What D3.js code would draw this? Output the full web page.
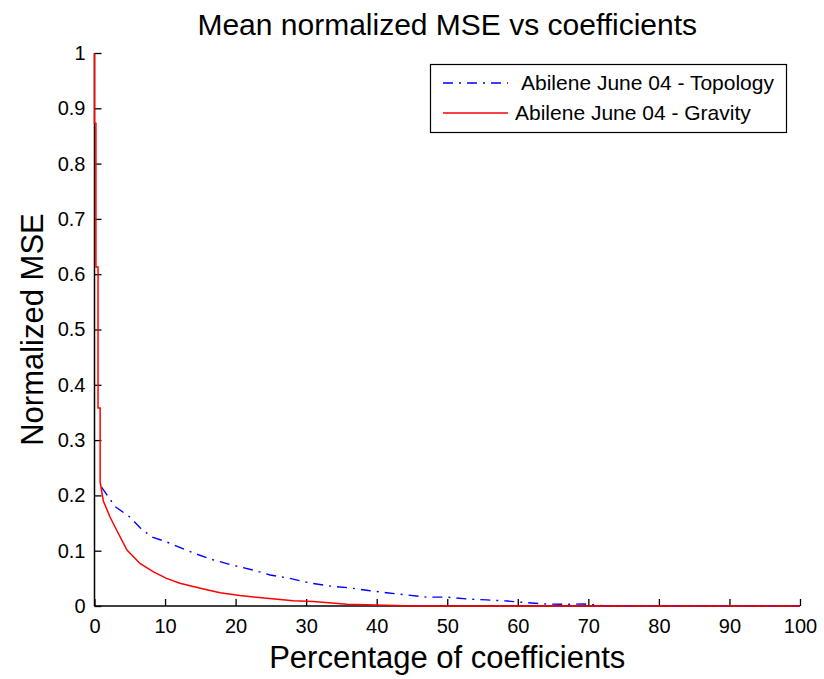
<!DOCTYPE html>
<html lang="en">
<head>
	<meta charset="UTF-8">
	<title>Mean normalized MSE vs coefficients</title>
	<style>
		body { margin: 0; background: #fff; }
		text { font-family: "Liberation Sans", Arial, sans-serif; fill: #000; }
	</style>
</head>
<body>

	<div id="viz-wrapper"></div>

	<script src="https://cdn.jsdelivr.net/npm/d3@7/dist/d3.min.js"></script>

	<script type="text/javascript">
    // values (percentage of coefficients vs normalized MSE)
    var topoX = [1.0, 2.9, 5.0, 6.5, 8.1, 10.2, 11.9, 14, 16.4, 19.5, 22.5, 24.9, 27.7, 30.4,
                 33.4, 36, 38.8, 41.4, 44.3, 47.1, 50, 52.8, 55.6, 58.5, 61.3, 64.1, 66.5,
                 69.3, 71.2, 72.5, 100];
    var topoY = [0.215, 0.18, 0.161, 0.141, 0.125, 0.116, 0.107, 0.096, 0.085, 0.074, 0.065,
                 0.056, 0.05, 0.042, 0.036, 0.033, 0.028, 0.024, 0.02, 0.016, 0.016, 0.0127,
                 0.011, 0.009, 0.006, 0.0036, 0.003, 0.0036, 0.0018, 0, 0];

    var gravX = [0, 0, 0.2, 0.2, 0.5, 0.5, 0.8, 0.8, 1.25, 2.2, 3.15, 4.6, 6.45, 8.3, 10.2,
                 12.1, 15, 17.8, 20.6, 24.4, 28.2, 31, 35.8, 44, 45, 100];
    var gravY = [1, 0.873, 0.873, 0.613, 0.613, 0.358, 0.358, 0.224, 0.19, 0.161, 0.137, 0.101,
                 0.077, 0.062, 0.05, 0.041, 0.032, 0.024, 0.019, 0.014, 0.0096, 0.008, 0.003,
                 0.0006, 0, 0];

    var xTicks = [0, 10, 20, 30, 40, 50, 60, 70, 80, 90, 100];
    var yTicks = [0, 0.1, 0.2, 0.3, 0.4, 0.5, 0.6, 0.7, 0.8, 0.9, 1];

    var seriesNames = ["Abilene June 04 - Topology", "Abilene June 04 - Gravity"];
    var seriesColors = ["#0000ff", "#ff0000"];

    var width = 824,
        height = 679;

    // plot box in pixels
    var plotLeft = 94.5, plotRight = 800, plotTop = 53, plotBottom = 606;

    var svg = d3.select("#viz-wrapper")
                .append("svg")
                .attr("width", width)
                .attr("height", height);

    svg.append("rect")
       .attr("width", width)
       .attr("height", height)
       .attr("fill", "#fff");

    var x = d3.scaleLinear().domain([0, 100]).range([plotLeft, plotRight]);
    var y = d3.scaleLinear().domain([0, 1]).range([plotBottom, plotTop]);

    // axes with ticks pointing inward, matlab style
    var xAxis = svg.append("g")
        .attr("transform", "translate(0," + plotBottom + ")")
        .call(d3.axisTop(x).tickValues(xTicks).tickSize(7).tickFormat(d3.format("d")));
    xAxis.selectAll("text")
        .attr("y", 27)
        .attr("dy", 0)
        .style("font-size", "20px");

    var yAxis = svg.append("g")
        .attr("transform", "translate(" + plotLeft + ",0)")
        .call(d3.axisRight(y).tickValues(yTicks).tickSize(7)
              .tickFormat(function(d) { return d === 0 || d === 1 ? d : d3.format(".1f")(d); }));
    yAxis.selectAll("text")
        .attr("x", -9)
        .attr("text-anchor", "end")
        .style("font-size", "20px");

    svg.selectAll(".domain").attr("stroke", "#000").attr("stroke-width", 1.5);
    svg.selectAll(".tick line").attr("stroke", "#000").attr("stroke-width", 1.3);
    // drop the outer tick stubs the domain path draws
    xAxis.select(".domain").attr("d", "M" + plotLeft + ",0H" + plotRight);
    yAxis.select(".domain").attr("d", "M0," + plotBottom + "V" + plotTop);

    var line = d3.line()
        .x(function(d) { return x(d[0]); })
        .y(function(d) { return y(d[1]); });

    var topo = topoX.map(function(v, i) { return [v, topoY[i]]; });
    var grav = gravX.map(function(v, i) { return [v, gravY[i]]; });

    svg.append("path")
       .datum(topo)
       .attr("d", line)
       .attr("fill", "none")
       .attr("stroke", seriesColors[0])
       .attr("stroke-width", 1.4)
       .attr("stroke-dasharray", "10,6,2,6");

    svg.append("path")
       .datum(grav)
       .attr("d", line)
       .attr("fill", "none")
       .attr("stroke", seriesColors[1])
       .attr("stroke-width", 1.5);

    // titles
    svg.append("text")
       .attr("x", (plotLeft + plotRight) / 2)
       .attr("y", 35)
       .attr("text-anchor", "middle")
       .style("font-size", "30px")
       .text("Mean normalized MSE vs coefficients");

    svg.append("text")
       .attr("x", (plotLeft + plotRight) / 2)
       .attr("y", 668)
       .attr("text-anchor", "middle")
       .style("font-size", "31px")
       .text("Percentage of coefficients");

    svg.append("text")
       .attr("transform", "translate(43," + (plotTop + plotBottom) / 2 + ") rotate(-90)")
       .attr("text-anchor", "middle")
       .style("font-size", "31px")
       .text("Normalized MSE");

    // legend
    var legend = svg.append("g");
    legend.append("rect")
       .attr("x", 430.5).attr("y", 64.5)
       .attr("width", 356).attr("height", 68)
       .attr("fill", "#fff")
       .attr("stroke", "#000")
       .attr("stroke-width", 1.2);

    var rows = legend.selectAll(".row")
       .data(seriesNames)
       .enter()
      .append("g")
       .attr("transform", function(d, i) { return "translate(0," + (83 + i * 30) + ")"; });

    rows.append("line")
       .attr("x1", 443).attr("x2", 508)
       .attr("stroke", function(d, i) { return seriesColors[i]; })
       .attr("stroke-width", 1.4)
       .attr("stroke-dasharray", function(d, i) { return i === 0 ? "10,6,2,6" : null; });

    rows.append("text")
       .attr("x", function(d, i) { return i === 0 ? 521 : 515; })
       .attr("y", 7)
       .style("font-size", "21px")
       .text(function(d) { return d; });
 	</script>

</body>
</html>
